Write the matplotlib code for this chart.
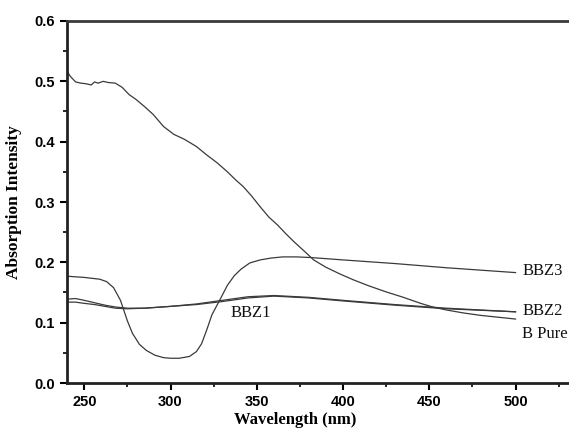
import matplotlib
matplotlib.use("Agg")
import matplotlib.pyplot as plt
from matplotlib.ticker import MultipleLocator

# ---- data ----
bpure_x = [240, 242, 245, 248, 251, 254, 256, 258, 261, 264, 268, 272, 276, 280, 285,
           290, 296, 302, 308, 315, 321, 327, 333, 338, 342, 347, 352, 357, 362, 367,
           372, 377, 383, 390, 398, 406, 415, 425, 435, 445, 452, 460, 470, 480, 490, 500]
bpure_y = [0.517, 0.508, 0.499, 0.497, 0.496, 0.494, 0.499, 0.497, 0.500, 0.498, 0.497,
           0.490, 0.478, 0.470, 0.458, 0.445, 0.425, 0.412, 0.404, 0.392, 0.378, 0.365,
           0.350, 0.336, 0.326, 0.310, 0.292, 0.275, 0.262, 0.247, 0.233, 0.220, 0.204,
           0.192, 0.181, 0.171, 0.161, 0.151, 0.142, 0.132, 0.126, 0.121, 0.116, 0.112,
           0.109, 0.106]

bbz3_x = [240, 250, 259, 263, 267, 271, 275, 278, 282, 286, 291, 296, 300, 305, 311,
          315, 318, 321, 324, 329, 333, 337, 341, 346, 352, 358, 365, 373, 381, 400,
          430, 460, 500]
bbz3_y = [0.177, 0.175, 0.172, 0.168, 0.158, 0.137, 0.103, 0.082, 0.064, 0.054, 0.046,
          0.042, 0.041, 0.041, 0.044, 0.052, 0.065, 0.088, 0.113, 0.140, 0.162, 0.178,
          0.189, 0.199, 0.204, 0.207, 0.209, 0.209, 0.208, 0.204, 0.198, 0.191, 0.183]

bbz2_x = [240, 245, 250, 256, 262, 268, 275, 285, 300, 315, 330, 345, 360, 380, 400,
          430, 460, 500]
bbz2_y = [0.139, 0.140, 0.137, 0.133, 0.129, 0.126, 0.124, 0.124, 0.127, 0.131, 0.137,
          0.143, 0.145, 0.142, 0.137, 0.130, 0.124, 0.118]

bbz1_x = [240, 245, 250, 256, 262, 268, 275, 285, 300, 315, 330, 345, 360, 380, 400,
          430, 460, 500]
bbz1_y = [0.134, 0.134, 0.132, 0.130, 0.127, 0.124, 0.123, 0.124, 0.127, 0.130, 0.135,
          0.141, 0.144, 0.141, 0.136, 0.129, 0.123, 0.118]

x_ticks = [250, 300, 350, 400, 450, 500]
y_ticks = [0.0, 0.1, 0.2, 0.3, 0.4, 0.5, 0.6]

labels = ["BBZ3", "BBZ2", "B Pure", "BBZ1"]
label_x = [504, 504, 504, 335]
label_y = [0.186, 0.119, 0.081, 0.116]

# ---- figure ----
fig = plt.figure(figsize=(5.69, 4.36), dpi=100)
ax = fig.add_axes([67 / 569, 53 / 436, 1 - 67 / 569, 362 / 436])

lc = "#3a3a3a"
for xs, ys in [(bpure_x, bpure_y), (bbz3_x, bbz3_y), (bbz2_x, bbz2_y), (bbz1_x, bbz1_y)]:
    ax.plot(xs, ys, color=lc, lw=0.9)

ax.set_xlim(240, 531)
ax.set_ylim(0, 0.6)
ax.spines["right"].set_visible(False)
for s in ["left", "bottom", "top"]:
    ax.spines[s].set_linewidth(2.0)
    ax.spines[s].set_color("#222222")
ax.spines["top"].set_color("#3a3a3a")

ax.set_xticks(x_ticks)
ax.set_yticks(y_ticks)
ax.xaxis.set_minor_locator(MultipleLocator(25))
ax.yaxis.set_minor_locator(MultipleLocator(0.05))
ax.tick_params(which="major", direction="out", length=5, width=1.5, top=False, right=False)
ax.tick_params(which="minor", direction="out", length=3, width=1.2, top=False, right=False)
ax.set_yticklabels([f"{v:.1f}" for v in y_ticks])

for lab in ax.get_xticklabels() + ax.get_yticklabels():
    lab.set_fontfamily("Liberation Sans")
    lab.set_fontweight("bold")
    lab.set_fontsize(10.5)

ax.set_xlabel("Wavelength (nm)", family="Liberation Serif", fontweight="bold", fontsize=12)
ax.set_ylabel("Absorption Intensity", family="Liberation Serif", fontweight="bold", fontsize=12.5)
ax.xaxis.set_label_coords((295 - 67) / 502, -0.08)
ax.yaxis.set_label_coords(-0.09, 0.50)

for t, lx, ly in zip(labels, label_x, label_y):
    ax.text(lx, ly, t, family="Liberation Serif", fontsize=12, va="center", ha="left",
            color="#111111")

fig.savefig("out.png", dpi=100)
